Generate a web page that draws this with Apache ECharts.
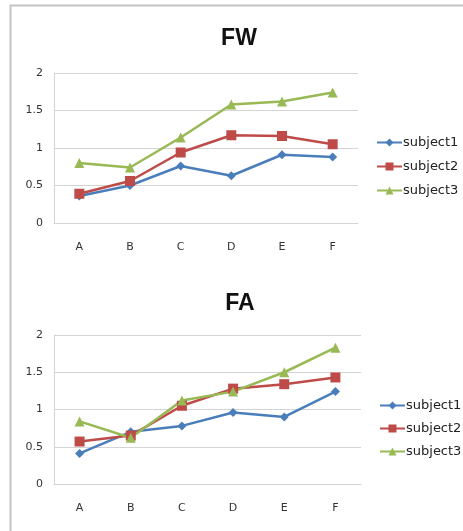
<!DOCTYPE html>
<html>
<head>
<meta charset="utf-8">
<script src="https://cdn.jsdelivr.net/npm/echarts@6/dist/echarts.min.js"></script>
<style>
html,body{margin:0;padding:0;background:#fff;}
#chart{width:463px;height:531px;}
</style>
</head>
<body>
<div id="chart"></div>
<script>
var categories = ['A', 'B', 'C', 'D', 'E', 'F'];
var seriesNames = ['subject1', 'subject2', 'subject3'];
var titles = ['FW', 'FA'];

var fwSubject1 = [0.36, 0.50, 0.76, 0.63, 0.91, 0.88];
var fwSubject2 = [0.39, 0.56, 0.94, 1.17, 1.16, 1.05];
var fwSubject3 = [0.80, 0.74, 1.14, 1.58, 1.62, 1.74];

var faSubject1 = [0.41, 0.70, 0.78, 0.96, 0.90, 1.24];
var faSubject2 = [0.57, 0.65, 1.05, 1.28, 1.34, 1.43];
var faSubject3 = [0.84, 0.62, 1.12, 1.24, 1.50, 1.83];

var yTicks = [0, 0.5, 1, 1.5, 2];

var colors = ['#4a7ebb', '#be4b48', '#98b954'];
var symbols = ['diamond', 'rect', 'triangle'];
var symbolSizes = [9, 10, 10];
var fontFam = '"DejaVu Sans", sans-serif';
var titleFont = '"Liberation Sans", Arial, sans-serif';

function makeSeries(data, idx, axisIdx) {
  return {
    type: 'line',
    name: seriesNames[idx],
    xAxisIndex: axisIdx,
    yAxisIndex: axisIdx,
    data: data,
    symbol: symbols[idx],
    symbolSize: symbolSizes[idx],
    showAllSymbol: true,
    lineStyle: { color: colors[idx], width: 2.5 },
    itemStyle: { color: colors[idx] },
    emphasis: { disabled: true },
    animation: false
  };
}

function xAxisCfg(gi) {
  return {
    type: 'category', gridIndex: gi, data: categories, boundaryGap: true,
    axisLine: { show: true, lineStyle: { color: '#d4d4d4', width: 1 } },
    axisTick: { show: false },
    axisLabel: { color: '#333', fontSize: 11, fontFamily: fontFam, margin: 19 },
    splitLine: { show: false }
  };
}
function yAxisCfg(gi) {
  return {
    type: 'value', gridIndex: gi, min: yTicks[0], max: yTicks[yTicks.length - 1], interval: 0.5,
    axisLine: { show: true, lineStyle: { color: '#d4d4d4', width: 1 } },
    axisTick: { show: false },
    axisLabel: { color: '#333', fontSize: 11, fontFamily: fontFam, margin: 11 },
    splitLine: { show: true, lineStyle: { color: '#d4d4d4', width: 1 } }
  };
}
function legendCfg(left, top, gap) {
  return {
    orient: 'vertical', left: left, top: top,
    itemWidth: 25, itemHeight: 10, itemGap: gap,
    data: seriesNames,
    textStyle: { color: '#222', fontSize: 13, fontFamily: fontFam, padding: [0, 0, 0, -4] },
    selectedMode: false
  };
}

var chart = echarts.init(document.getElementById('chart'), null, { renderer: 'canvas' });
chart.setOption({
  animation: false,
  backgroundColor: '#fff',
  graphic: [{
    type: 'rect', shape: { x: 10.5, y: 5.5, width: 470, height: 540 },
    style: { fill: 'none', stroke: '#c4c4c4', lineWidth: 2 }, silent: true, z: -1
  }],
  title: [
    { text: titles[0], left: 234, top: 22, textAlign: 'center',
      textStyle: { fontSize: 23, fontWeight: 'bold', color: '#111', fontFamily: titleFont } },
    { text: titles[1], left: 235, top: 287, textAlign: 'center',
      textStyle: { fontSize: 23, fontWeight: 'bold', color: '#111', fontFamily: titleFont } }
  ],
  legend: [ legendCfg(371, 131, 11), legendCfg(374, 394, 10) ],
  grid: [
    { left: 54, top: 73, width: 304, height: 150, containLabel: false },
    { left: 54, top: 335, width: 307, height: 149, containLabel: false }
  ],
  xAxis: [ xAxisCfg(0), xAxisCfg(1) ],
  yAxis: [ yAxisCfg(0), yAxisCfg(1) ],
  series: [
    makeSeries(fwSubject1, 0, 0),
    makeSeries(fwSubject2, 1, 0),
    makeSeries(fwSubject3, 2, 0),
    makeSeries(faSubject1, 0, 1),
    makeSeries(faSubject2, 1, 1),
    makeSeries(faSubject3, 2, 1)
  ]
});
</script>
</body>
</html>
